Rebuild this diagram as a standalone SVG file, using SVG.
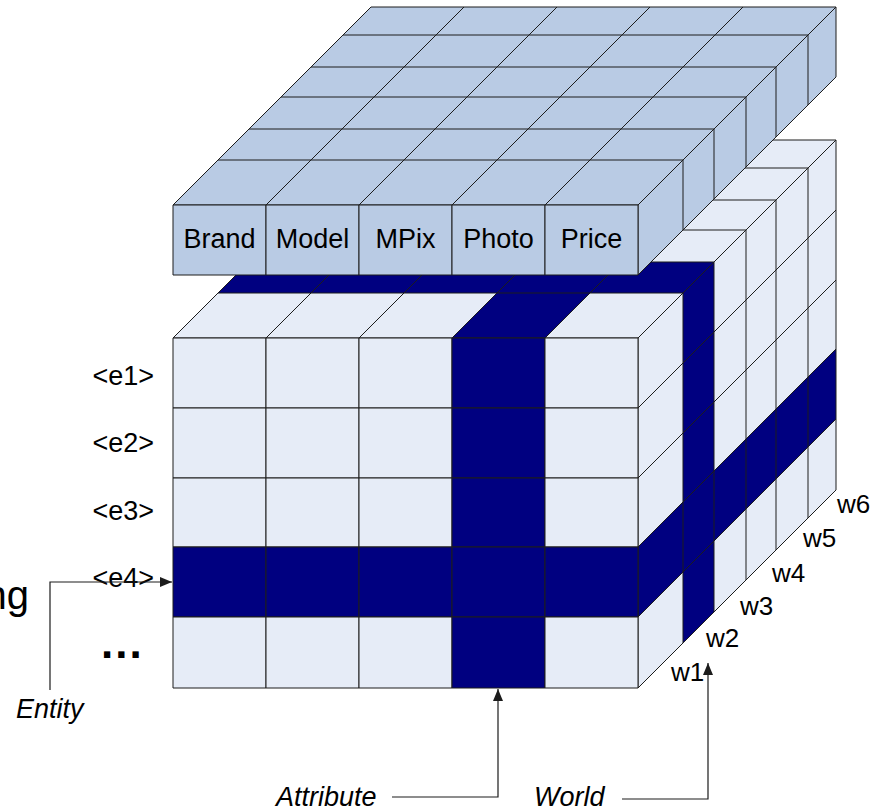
<svg xmlns="http://www.w3.org/2000/svg" width="879" height="811" viewBox="0 0 879 811">
<defs>
<style>
.c{fill:#E6ECF7;stroke:#1c1c1c;stroke-width:1;stroke-linejoin:round}
.b{fill:#000080;stroke:#1c1c1c;stroke-width:1;stroke-linejoin:round}
.s{fill:#B9CBE4;stroke:#1c1c1c;stroke-width:1;stroke-linejoin:round}
.t{font-family:"Liberation Sans",Arial,sans-serif;font-size:27px;fill:#000}
.i{font-style:italic}
.ln{fill:none;stroke:#1c1c1c;stroke-width:1.2}
</style>
<marker id="ah" markerUnits="userSpaceOnUse" markerWidth="12" markerHeight="10" refX="12" refY="5" orient="auto">
<path d="M0,0 L12,5 L0,10 Z" fill="#1c1c1c"/>
</marker>
</defs>
<rect width="879" height="811" fill="#fff"/>

<g id="cube">
<g id="cube-w6">
<polygon class="c" points="326,185 419,185 464,140 371,140"/>
<polygon class="c" points="419,185 512,185 557,140 464,140"/>
<polygon class="c" points="512,185 605,185 650,140 557,140"/>
<polygon class="b" points="605,185 698,185 743,140 650,140"/>
<polygon class="c" points="698,185 791,185 836,140 743,140"/>
<polygon class="c" points="791,185 836,140 836,210 791,255"/>
<polygon class="c" points="791,255 836,210 836,280 791,325"/>
<polygon class="c" points="791,325 836,280 836,349 791,394"/>
<polygon class="b" points="791,394 836,349 836,419 791,464"/>
<polygon class="c" points="791,464 836,419 836,490 791,535"/>
</g>
<g id="cube-w5">
<polygon class="c" points="298,213 391,213 436,168 343,168"/>
<polygon class="c" points="391,213 484,213 529,168 436,168"/>
<polygon class="c" points="484,213 577,213 622,168 529,168"/>
<polygon class="b" points="577,213 670,213 715,168 622,168"/>
<polygon class="c" points="670,213 763,213 808,168 715,168"/>
<polygon class="c" points="763,213 808,168 808,238 763,283"/>
<polygon class="c" points="763,283 808,238 808,308 763,353"/>
<polygon class="c" points="763,353 808,308 808,377 763,422"/>
<polygon class="b" points="763,422 808,377 808,447 763,492"/>
<polygon class="c" points="763,492 808,447 808,518 763,563"/>
</g>
<g id="cube-w4">
<polygon class="c" points="266,245 359,245 404,200 311,200"/>
<polygon class="c" points="359,245 452,245 497,200 404,200"/>
<polygon class="c" points="452,245 545,245 590,200 497,200"/>
<polygon class="b" points="545,245 638,245 683,200 590,200"/>
<polygon class="c" points="638,245 731,245 776,200 683,200"/>
<polygon class="c" points="731,245 776,200 776,270 731,315"/>
<polygon class="c" points="731,315 776,270 776,340 731,385"/>
<polygon class="c" points="731,385 776,340 776,409 731,454"/>
<polygon class="b" points="731,454 776,409 776,479 731,524"/>
<polygon class="c" points="731,524 776,479 776,550 731,595"/>
</g>
<g id="cube-w3">
<polygon class="c" points="236,275 329,275 374,230 281,230"/>
<polygon class="c" points="329,275 422,275 467,230 374,230"/>
<polygon class="c" points="422,275 515,275 560,230 467,230"/>
<polygon class="b" points="515,275 608,275 653,230 560,230"/>
<polygon class="c" points="608,275 701,275 746,230 653,230"/>
<polygon class="c" points="701,275 746,230 746,300 701,345"/>
<polygon class="c" points="701,345 746,300 746,370 701,415"/>
<polygon class="c" points="701,415 746,370 746,439 701,484"/>
<polygon class="b" points="701,484 746,439 746,509 701,554"/>
<polygon class="c" points="701,554 746,509 746,580 701,625"/>
</g>
<g id="cube-w2">
<polygon class="b" points="204,307 297,307 342,262 249,262"/>
<polygon class="b" points="297,307 390,307 435,262 342,262"/>
<polygon class="b" points="390,307 483,307 528,262 435,262"/>
<polygon class="b" points="483,307 576,307 621,262 528,262"/>
<polygon class="b" points="576,307 669,307 714,262 621,262"/>
<polygon class="b" points="669,307 714,262 714,332 669,377"/>
<polygon class="b" points="669,377 714,332 714,402 669,447"/>
<polygon class="b" points="669,447 714,402 714,471 669,516"/>
<polygon class="b" points="669,516 714,471 714,541 669,586"/>
<polygon class="b" points="669,586 714,541 714,612 669,657"/>
</g>
<g id="cube-w1">
<polygon class="c" points="173,338 266,338 311,293 218,293"/>
<polygon class="c" points="266,338 359,338 404,293 311,293"/>
<polygon class="c" points="359,338 452,338 497,293 404,293"/>
<polygon class="b" points="452,338 545,338 590,293 497,293"/>
<polygon class="c" points="545,338 638,338 683,293 590,293"/>
<polygon class="c" points="638,338 683,293 683,363 638,408"/>
<polygon class="c" points="638,408 683,363 683,433 638,478"/>
<polygon class="c" points="638,478 683,433 683,502 638,547"/>
<polygon class="b" points="638,547 683,502 683,572 638,617"/>
<polygon class="c" points="638,617 683,572 683,643 638,688"/>
<rect class="c" x="173" y="338" width="93" height="70"/>
<rect class="c" x="266" y="338" width="93" height="70"/>
<rect class="c" x="359" y="338" width="93" height="70"/>
<rect class="b" x="452" y="338" width="93" height="70"/>
<rect class="c" x="545" y="338" width="93" height="70"/>
<rect class="c" x="173" y="408" width="93" height="70"/>
<rect class="c" x="266" y="408" width="93" height="70"/>
<rect class="c" x="359" y="408" width="93" height="70"/>
<rect class="b" x="452" y="408" width="93" height="70"/>
<rect class="c" x="545" y="408" width="93" height="70"/>
<rect class="c" x="173" y="478" width="93" height="69"/>
<rect class="c" x="266" y="478" width="93" height="69"/>
<rect class="c" x="359" y="478" width="93" height="69"/>
<rect class="b" x="452" y="478" width="93" height="69"/>
<rect class="c" x="545" y="478" width="93" height="69"/>
<rect class="b" x="173" y="547" width="93" height="70"/>
<rect class="b" x="266" y="547" width="93" height="70"/>
<rect class="b" x="359" y="547" width="93" height="70"/>
<rect class="b" x="452" y="547" width="93" height="70"/>
<rect class="b" x="545" y="547" width="93" height="70"/>
<rect class="c" x="173" y="617" width="93" height="71"/>
<rect class="c" x="266" y="617" width="93" height="71"/>
<rect class="c" x="359" y="617" width="93" height="71"/>
<rect class="b" x="452" y="617" width="93" height="71"/>
<rect class="c" x="545" y="617" width="93" height="71"/>
</g>
</g>

<g id="attributes">
<g id="attr-w6">
<polygon class="s" points="326,52 419,52 464,7 371,7"/>
<polygon class="s" points="419,52 512,52 557,7 464,7"/>
<polygon class="s" points="512,52 605,52 650,7 557,7"/>
<polygon class="s" points="605,52 698,52 743,7 650,7"/>
<polygon class="s" points="698,52 791,52 836,7 743,7"/>
<polygon class="s" points="791,52 836,7 836,77 791,122"/>
</g>
<g id="attr-w5">
<polygon class="s" points="298,80 391,80 436,35 343,35"/>
<polygon class="s" points="391,80 484,80 529,35 436,35"/>
<polygon class="s" points="484,80 577,80 622,35 529,35"/>
<polygon class="s" points="577,80 670,80 715,35 622,35"/>
<polygon class="s" points="670,80 763,80 808,35 715,35"/>
<polygon class="s" points="763,80 808,35 808,105 763,150"/>
</g>
<g id="attr-w4">
<polygon class="s" points="266,112 359,112 404,67 311,67"/>
<polygon class="s" points="359,112 452,112 497,67 404,67"/>
<polygon class="s" points="452,112 545,112 590,67 497,67"/>
<polygon class="s" points="545,112 638,112 683,67 590,67"/>
<polygon class="s" points="638,112 731,112 776,67 683,67"/>
<polygon class="s" points="731,112 776,67 776,137 731,182"/>
</g>
<g id="attr-w3">
<polygon class="s" points="236,142 329,142 374,97 281,97"/>
<polygon class="s" points="329,142 422,142 467,97 374,97"/>
<polygon class="s" points="422,142 515,142 560,97 467,97"/>
<polygon class="s" points="515,142 608,142 653,97 560,97"/>
<polygon class="s" points="608,142 701,142 746,97 653,97"/>
<polygon class="s" points="701,142 746,97 746,167 701,212"/>
</g>
<g id="attr-w2">
<polygon class="s" points="204,174 297,174 342,129 249,129"/>
<polygon class="s" points="297,174 390,174 435,129 342,129"/>
<polygon class="s" points="390,174 483,174 528,129 435,129"/>
<polygon class="s" points="483,174 576,174 621,129 528,129"/>
<polygon class="s" points="576,174 669,174 714,129 621,129"/>
<polygon class="s" points="669,174 714,129 714,199 669,244"/>
</g>
<g id="attr-w1">
<polygon class="s" points="173,205 266,205 311,160 218,160"/>
<polygon class="s" points="266,205 359,205 404,160 311,160"/>
<polygon class="s" points="359,205 452,205 497,160 404,160"/>
<polygon class="s" points="452,205 545,205 590,160 497,160"/>
<polygon class="s" points="545,205 638,205 683,160 590,160"/>
<polygon class="s" points="638,205 683,160 683,230 638,275"/>
<rect class="s" x="173" y="205" width="93" height="70"/>
<rect class="s" x="266" y="205" width="93" height="70"/>
<rect class="s" x="359" y="205" width="93" height="70"/>
<rect class="s" x="452" y="205" width="93" height="70"/>
<rect class="s" x="545" y="205" width="93" height="70"/>
</g>
<g id="attr-labels" class="t" text-anchor="middle">
<text x="219.5" y="248">Brand</text>
<text x="312.5" y="248">Model</text>
<text x="405.5" y="248">MPix</text>
<text x="498.5" y="248">Photo</text>
<text x="591.5" y="248">Price</text>
</g>
</g>

<g id="entity-labels" class="t" text-anchor="end">
<text x="154" y="385">&lt;e1&gt;</text>
<text x="154" y="452">&lt;e2&gt;</text>
<text x="154" y="520">&lt;e3&gt;</text>
<text x="154" y="587">&lt;e4&gt;</text>
</g>

<g id="world-labels" class="t" style="font-size:26px">
<text x="671" y="681">w1</text>
<text x="706" y="647">w2</text>
<text x="740" y="615">w3</text>
<text x="772" y="582">w4</text>
<text x="803" y="547">w5</text>
<text x="837" y="513">w6</text>
</g>

<g id="misc-text">
<text class="t" x="29" y="609" text-anchor="end" style="font-size:40px">ng</text>
<text class="t" x="101" y="658" style="font-size:44px;font-weight:bold;letter-spacing:2px">...</text>
</g>

<g id="connectors">
<path class="ln" d="M50,690 V582 H172" marker-end="url(#ah)"/>
<path class="ln" d="M392,797 H498 V689" marker-end="url(#ah)"/>
<path class="ln" d="M622,799 H708 V663" marker-end="url(#ah)"/>
</g>

<g id="axis-labels" class="t i">
<text x="16" y="718">Entity</text>
<text x="276" y="806">Attribute</text>
<text x="534" y="806">World</text>
</g>
</svg>
